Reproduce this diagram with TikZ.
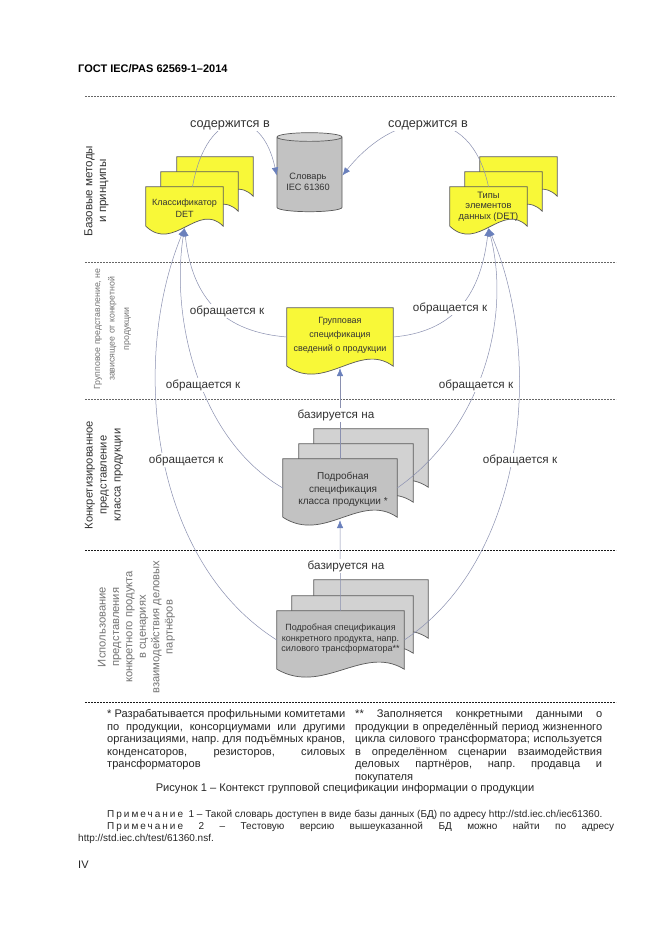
\documentclass[tikz,border=0pt]{standalone}
\usepackage{fontspec}
\setmainfont{Liberation Sans}
\usetikzlibrary{positioning,shapes,arrows.meta}
\definecolor{pageyellow}{HTML}{F8F838}
\definecolor{pagegrayA}{HTML}{C2C2C2}
\definecolor{pagegrayB}{HTML}{D2D2D2}
\definecolor{linkblue}{HTML}{8A90B0}
\definecolor{tipblue}{HTML}{6A80BC}
\definecolor{inkgray}{HTML}{333333}
\tikzset{
  sectionline/.style={line width=0.4, dash pattern=on 2pt off 1pt, color=black!60},
  sectionlinedark/.style={sectionline, color=black!90},
  pageline/.style={line width=0.7, color=black!65},
  pagetext/.style={font=\fontsize{9}{10.5}\selectfont, align=center, text=inkgray, inner sep=0},
  relation/.style={font=\fontsize{11.7}{14}\selectfont, text=inkgray, fill=white, inner sep=1.5},
  relationbig/.style={font=\fontsize{12.7}{15}\selectfont, text=inkgray, fill=white, inner sep=1.5},
  link/.style={line width=0.5, color=linkblue},
  linktip/.style={link, -{Latex[length=8pt,width=6.5pt,color=tipblue]}},
  sidelabel/.style={rotate=90, align=center, inner sep=0, font=\fontsize{11.6}{13.7}\selectfont, text=inkgray},
  sidelabelgray/.style={sidelabel, text=black!55},
  bodytext/.style={anchor=north west, inner sep=0, align=justify, font=\fontsize{11.1}{12.6}\selectfont\frenchspacing, text=black!85},
  notetext/.style={inner sep=0, font=\fontsize{10}{12}\selectfont\frenchspacing, text=black!85},
}
% one sheet with a wavy lower edge: name, left, top, width, height, fill
\newcommand{\docpage}[6]{
  \node (#1) [inner sep=0, minimum width=#4, minimum height=#5] at ({#2+#4/2},{#3+#5/2}) {};
  \draw[pageline, fill=#6] (#1.south west) -- (#1.north west) -- (#1.north east) -- (#1.south east)
    .. controls ({#2+#4*0.68},{#3+#5-25}) and ({#2+#4*0.36},{#3+#5+27}) .. (#1.south west);
}
\newcommand{\noteword}{{\addfontfeature{LetterSpace=20}Примечание}}
\begin{document}
\begin{tikzpicture}[x=1pt,y=-1pt]
\useasboundingbox (0,0) rectangle (661,936);
\fill[white] (0,0) rectangle (661,936);

\node (header) [anchor=west, inner sep=0, font=\bfseries\fontsize{11}{12}\selectfont] at (78,69) {ГОСТ IEC/PAS 62569-1–2014};

% sections
\coordinate (rowAl) at (85,96);   \coordinate (rowAr) at (616,96);
\coordinate (rowBl) at (85,262);  \coordinate (rowBr) at (616,262);
\coordinate (rowCl) at (85,399);  \coordinate (rowCr) at (616,399);
\coordinate (rowDl) at (85,550);  \coordinate (rowDr) at (616,550);
\coordinate (rowEl) at (85,702);  \coordinate (rowEr) at (616,702);
\draw[sectionline] (rowAl) -- (rowAr);
\draw[sectionline] (rowBl) -- (rowBr);
\draw[sectionline] (rowCl) -- (rowCr);
\draw[sectionlinedark] (rowDl) -- (rowDr);
\draw[sectionlinedark] (rowEl) -- (rowEr);

\node (sideA) [sidelabel] at (96.5,191) {Базовые методы\\и принципы};
\node (sideB) [sidelabelgray, font=\fontsize{8.8}{14.5}\selectfont] at (112.5,329) {Групповое представление, не\\зависящее от конкретной\\продукции};
\node (sideC) [sidelabel, font=\fontsize{11.2}{14}\selectfont] at (104,475) {Конкретизированное\\представление\\класса продукции};
\node (sideD) [sidelabelgray, font=\fontsize{11.2}{13.4}\selectfont] at (136.5,627) {Использование\\представления\\конкретного продукта\\в сценариях\\взаимодействия деловых\\партнёров};

% dictionary
\node (slovar) [cylinder, shape border rotate=90, draw=black!65, line width=0.7, aspect=1.3, minimum width=65, minimum height=79,
  cylinder uses custom fill, cylinder body fill=pagegrayA, cylinder end fill=pagegrayB] at (309.5,175.5) {};
\node (slovarText) [pagetext, font=\fontsize{9.2}{11.5}\selectfont] at (308,182) {Словарь\\IEC 61360};

% sheets
\docpage{classifC}{177}{157}{76}{39}{pageyellow}
\docpage{classifB}{161}{172}{77}{39}{pageyellow}
\docpage{classif}{146}{187}{77}{39}{pageyellow}
\docpage{typesC}{480}{157}{77}{39}{pageyellow}
\docpage{typesB}{465}{172}{77}{39}{pageyellow}
\docpage{types}{450}{187}{77}{39}{pageyellow}
\docpage{groupspec}{287}{308}{106}{58}{pageyellow}
\docpage{classC}{314}{429}{114}{58}{pagegrayB}
\docpage{classB}{299}{444}{114}{58}{pagegrayB}
\docpage{classspec}{283}{459}{114}{58}{pagegrayA}
\docpage{prodC}{314}{580}{114}{58}{pagegrayB}
\docpage{prodB}{292}{596}{121}{57}{pagegrayB}
\docpage{prodspec}{277}{611}{127}{58}{pagegrayA}

\node (classifText) [pagetext, font=\fontsize{9}{12}\selectfont] at ([yshift=-1.5pt]classif.center) {Классификатор\\DET};
\node (typesText) [pagetext, font=\fontsize{9.3}{10.5}\selectfont] at (types.center) {Типы\\элементов\\данных (DET)};
\node (groupText) [pagetext, font=\fontsize{9}{14}\selectfont] at ([yshift=2pt]groupspec.center) {Групповая\\спецификация\\сведений о продукции};
\node (classText) [pagetext, font=\fontsize{10}{12.5}\selectfont] at ([xshift=3pt,yshift=-1.5pt]classspec.center) {Подробная\\спецификация\\класса продукции *};
\node (prodText) [pagetext] at ([yshift=1pt]prodspec.center) {Подробная спецификация\\конкретного продукта, напр.\\силового трансформатора**};

% connectors
\draw[linktip] ([xshift=8pt]classif.north) .. controls (207,105) and (262,105) .. (slovar.west);
\draw[linktip] (types.north) .. controls (470,100) and (395,110) .. (slovar.east);
\draw[linktip] (groupspec.west) .. controls (225,332) and (192,300) .. ([yshift=-2pt]classif.south);
\draw[linktip] (classspec.west) .. controls (200,440) and (170,320) .. ([yshift=-2pt]classif.south);
\draw[linktip] (prodspec.west) .. controls (150,560) and (130,360) .. ([yshift=-2pt]classif.south);
\draw[linktip] (groupspec.east) .. controls (450,332) and (480,300) .. ([yshift=-2pt]types.south);
\draw[linktip] (classspec.east) .. controls (480,430) and (512,320) .. ([yshift=-2pt]types.south);
\draw[linktip] (prodspec.east) .. controls (525,560) and (545,360) .. ([yshift=-2pt]types.south);
\draw[linktip] (classspec.north) -- ([yshift=-2pt]groupspec.south);
\draw[linktip] (prodspec.north) -- ([yshift=-3pt]classspec.south);

% connector labels
\node (containsL) [relationbig] at (230,125) {содержится в};
\node (containsR) [relationbig] at (428,125) {содержится в};
\node (refersLa) [relation] at (227,311) {обращается к};
\node (refersRa) [relation] at (450,308) {обращается к};
\node (refersLb) [relation] at (203,385) {обращается к};
\node (refersRb) [relation] at (476,385) {обращается к};
\node (refersLc) [relation] at (186,460) {обращается к};
\node (refersRc) [relation] at (520,460) {обращается к};
\node (basedA) [relation] at (336,415) {базируется на};
\node (basedB) [relation] at (346,566) {базируется на};

% notes below the picture
\node (noteLeft) [bodytext, text width=238] at (107,708.5) {\strut* Разрабатывается профильными комитетами\linebreak по продукции, консорциумами или другими\linebreak организациями, напр. для подъёмных кранов,\linebreak конденсаторов, резисторов, силовых\linebreak трансформаторов};
\node (noteRight) [bodytext, text width=247] at (355,708.5) {\strut** Заполняется конкретными данными о\linebreak продукции в определённый период жизненного\linebreak цикла силового трансформатора; используется\linebreak в определённом сценарии взаимодействия\linebreak деловых партнёров, напр. продавца и\linebreak покупателя};
\node (caption) [inner sep=0, font=\fontsize{11.1}{12.6}\selectfont, text=black!85] at (345,789) {Рисунок 1 – Контекст групповой спецификации информации о продукции};
\node (noteOne) [notetext, anchor=west] at (107,815) {\noteword\ \ 1 – Такой словарь доступен в виде базы данных (БД) по адресу http://std.iec.ch/iec61360.};
\node (noteTwo) [notetext, anchor=north west, align=justify, text width=507] at (107,822) {\noteword\ 2 – Тестовую версию вышеуказанной БД можно найти по адресу\linebreak};
\node (noteUrl) [notetext, anchor=west] at (78,839) {http://std.iec.ch/test/61360.nsf.};
\node (pagenum) [anchor=west, inner sep=0, font=\fontsize{11}{12}\selectfont, text=black!85] at (78,865) {IV};
\end{tikzpicture}
\end{document}
